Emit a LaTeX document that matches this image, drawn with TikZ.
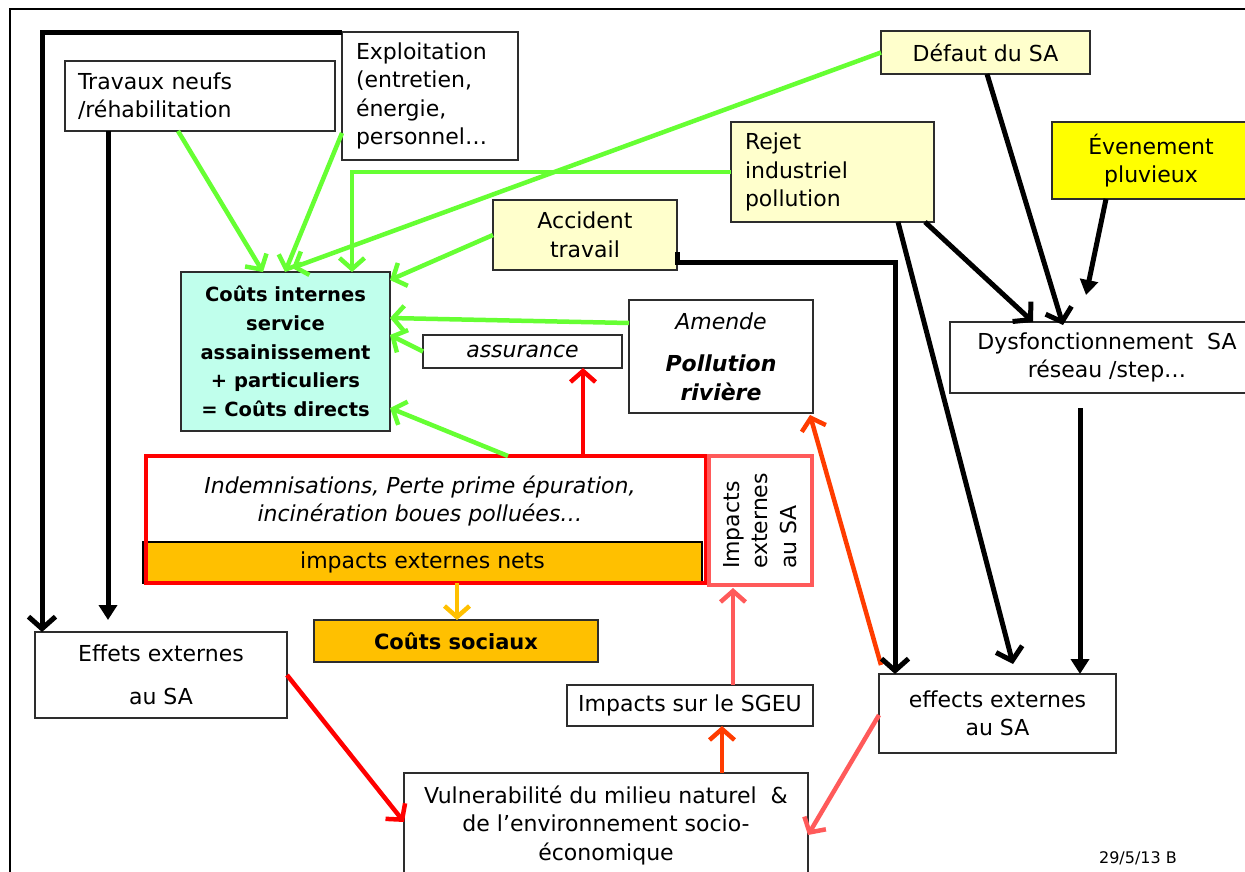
\documentclass[tikz,border=0pt]{standalone}
\usepackage{fontspec}
\setmainfont{DejaVu Sans}
\usetikzlibrary{arrows.meta}
\definecolor{lgreen}{RGB}{102,255,51}
\definecolor{paleyellow}{RGB}{255,255,204}
\definecolor{brightyellow}{RGB}{255,255,0}
\definecolor{aqua}{RGB}{192,255,236}
\definecolor{amber}{RGB}{255,192,0}
\definecolor{redorange}{RGB}{255,60,0}
\definecolor{salmon}{RGB}{255,90,90}
\definecolor{boxline}{RGB}{45,45,45}
\begin{document}
\begin{tikzpicture}[x=1pt,y=-1pt,
  base/.style={font=\fontsize{22}{28.5}\selectfont},
  box/.style={base, draw=boxline, line width=1.4pt, anchor=north west,
    inner sep=0pt, outer sep=0pt, align=center},
  boxdim/.style args={#1x#2}{minimum width=#1pt, minimum height=#2pt},
  leftbox/.style args={#1/#2}{align=left, inner xsep=#1pt, text width=#2pt},
  tip/.style={-{Straight Barb[length=11pt,width=25pt]}},
  gar/.style={tip, draw=lgreen, line width=4.5pt},
  rar/.style={tip, draw=red, line width=4.5pt},
  oar/.style={tip, draw=redorange, line width=4.5pt},
  sar/.style={tip, draw=salmon, line width=4.5pt},
  yar/.style={tip, draw=amber, line width=4.5pt},
  blk/.style={draw=black, line width=5pt, -{Straight Barb[length=12pt,width=27pt]}},
  blktri/.style={draw=black, line width=5pt, -{Triangle[length=15pt,width=18pt]}},
]
\useasboundingbox (0,0) rectangle (1245,872);

% outer frame
\draw[line width=2.5pt] (10,872) -- (10,9) -- (1245,9);

% boxes
\node[box, boxdim=270x70, leftbox=13/244] (trav) at (65,61) {Travaux neufs\\/réhabilitation};
\node[box, boxdim=176x128, leftbox=14/148] (expl) at (342,32) {Exploitation\\(entretien,\\énergie,\\personnel…};
\node[box, fill=paleyellow, boxdim=209x43] (defaut) at (881,31) {Défaut du SA};
\node[box, fill=paleyellow, boxdim=203x100, leftbox=14/175] (rejet) at (731,122) {Rejet\\industriel\\pollution};
\node[box, fill=brightyellow, boxdim=198x77] (even) at (1052,122) {Évenement\\pluvieux};
\node[box, fill=paleyellow, boxdim=184x70] (acc) at (493,200) {Accident\\travail};
\node[box, fill=aqua, boxdim=209x159, font=\fontsize{19.5}{28.8}\selectfont\bfseries] (cout) at (181,272)
  {Coûts internes\\service\\assainissement\\+ particuliers\\= Coûts directs};
\node[box, boxdim=199x33, font=\fontsize{22}{24}\selectfont\itshape] (assur) at (423,335) {assurance};
\node[box, boxdim=184x113] (amende) at (629,300)
  {\textit{Amende}\\[14pt]\textbf{\textit{Pollution}}\\\textbf{\textit{rivière}}};
\node[box, boxdim=314x71] (dys) at (950,322) {Dysfonctionnement~~SA\\réseau /step…};

\node[box, fill=amber, draw=black, boxdim=559x41] (bar) at (143,542) {impacts externes nets};
\node[box, draw=red, line width=3.5pt, boxdim=560x127] (redbox) at (146,456) {};
\node[base, align=center, font=\fontsize{22}{28.5}\selectfont\itshape] (indem) at (420,501)
  {Indemnisations, Perte prime épuration,\\incinération boues polluées…};
\node[box, draw=salmon, line width=4.5pt, boxdim=103x129] (imp) at (709,456) {};
\node[base, rotate=90, align=left] (imptxt) at (760,521) {Impacts\\externes\\au SA};

\node[box, fill=amber, boxdim=284x42, font=\fontsize{21}{24}\selectfont\bfseries] (soc) at (314,620) {Coûts sociaux};
\node[box, boxdim=246x41] (sgeu) at (567,685) {Impacts sur le SGEU};
\node[box, boxdim=404x104] (vul) at (404,773)
  {Vulnerabilité du milieu naturel ~\&\\de l’environnement socio-\\économique};
\node[box, boxdim=252x86] (effets) at (35,632) {Effets externes\\[14pt]au SA};
\node[box, boxdim=237x79] (eff) at (879,674) {effects externes\\au SA};
\node[base, font=\fontsize{16}{18}\selectfont] (date) at (1138,858) {29/5/13 B};

% black links on the left
\draw[blk] ([yshift=-1pt]expl.north west) -| ([xshift=7pt]effets.north west);
\draw[blktri] ([xshift=43pt]trav.south west) -- ([xshift=73pt,yshift=12pt]effets.north west);

% green links towards internal costs
\draw[gar] ([xshift=113pt]trav.south west) -- ([xshift=82pt]cout.north west);
\draw[gar] ([yshift=-101pt]expl.north west) -- ([xshift=104pt]cout.north west);
\draw[gar] (defaut.west) -- ([xshift=111pt,yshift=4pt]cout.north west);
\draw[gar] (rejet.west) -| ([xshift=171pt]cout.north west);
\draw[gar] ([yshift=-35pt]acc.north west) -- ([yshift=-8pt]cout.north east);
\draw[gar] ([yshift=-23pt]amende.north west) -- ([yshift=-46pt]cout.north east);
\draw[gar] (assur.west) -- ([yshift=-63pt]cout.north east);
\draw[gar] ([xshift=362pt]redbox.north west) -- ([yshift=-136pt]cout.north east);

% red / orange links
\draw[rar] ([xshift=437pt]redbox.north west) -- ([xshift=160pt]assur.south west);
\draw[oar] ([xshift=2pt,yshift=9pt]eff.north west) -- ([xshift=-3pt,yshift=-2pt]amende.south east);
\draw[oar] ([xshift=318pt]vul.north west) -- ([xshift=155pt]sgeu.south west);
\draw[sar] ([xshift=166pt]sgeu.north west) -- ([xshift=24pt,yshift=-3pt]imp.south west);
\draw[sar] ([yshift=-41pt]eff.north west) -- ([yshift=-62pt]vul.north east);
\draw[rar] ([yshift=-43pt]effets.north east) -- ([yshift=-49pt]vul.north west);
\draw[yar] ([xshift=314pt]bar.south west) -- ([xshift=143pt]soc.north west);

% black links on the right
\draw[blk] ([yshift=-52pt]acc.north east) -- ([yshift=-62pt]acc.north east) -| ([xshift=16pt]eff.north west);
\draw[blk] ([xshift=167pt]rejet.south west) -- ([xshift=134pt,yshift=10pt]eff.north west);
\draw[blk] ([xshift=194pt]rejet.south west) -- ([xshift=83pt]dys.north west);
\draw[blk] ([xshift=106pt]defaut.south west) -- ([xshift=113pt,yshift=-3pt]dys.north west);
\coordinate (evtip) at ([xshift=136pt,yshift=27pt]dys.north west);
\draw[blktri] ([xshift=54pt]even.south west) -- (evtip);
\coordinate (dysout) at ([xshift=130pt,yshift=-15pt]dys.south west);
\draw[blktri] (dysout) -- (dysout |- eff.north);
\end{tikzpicture}
\end{document}
